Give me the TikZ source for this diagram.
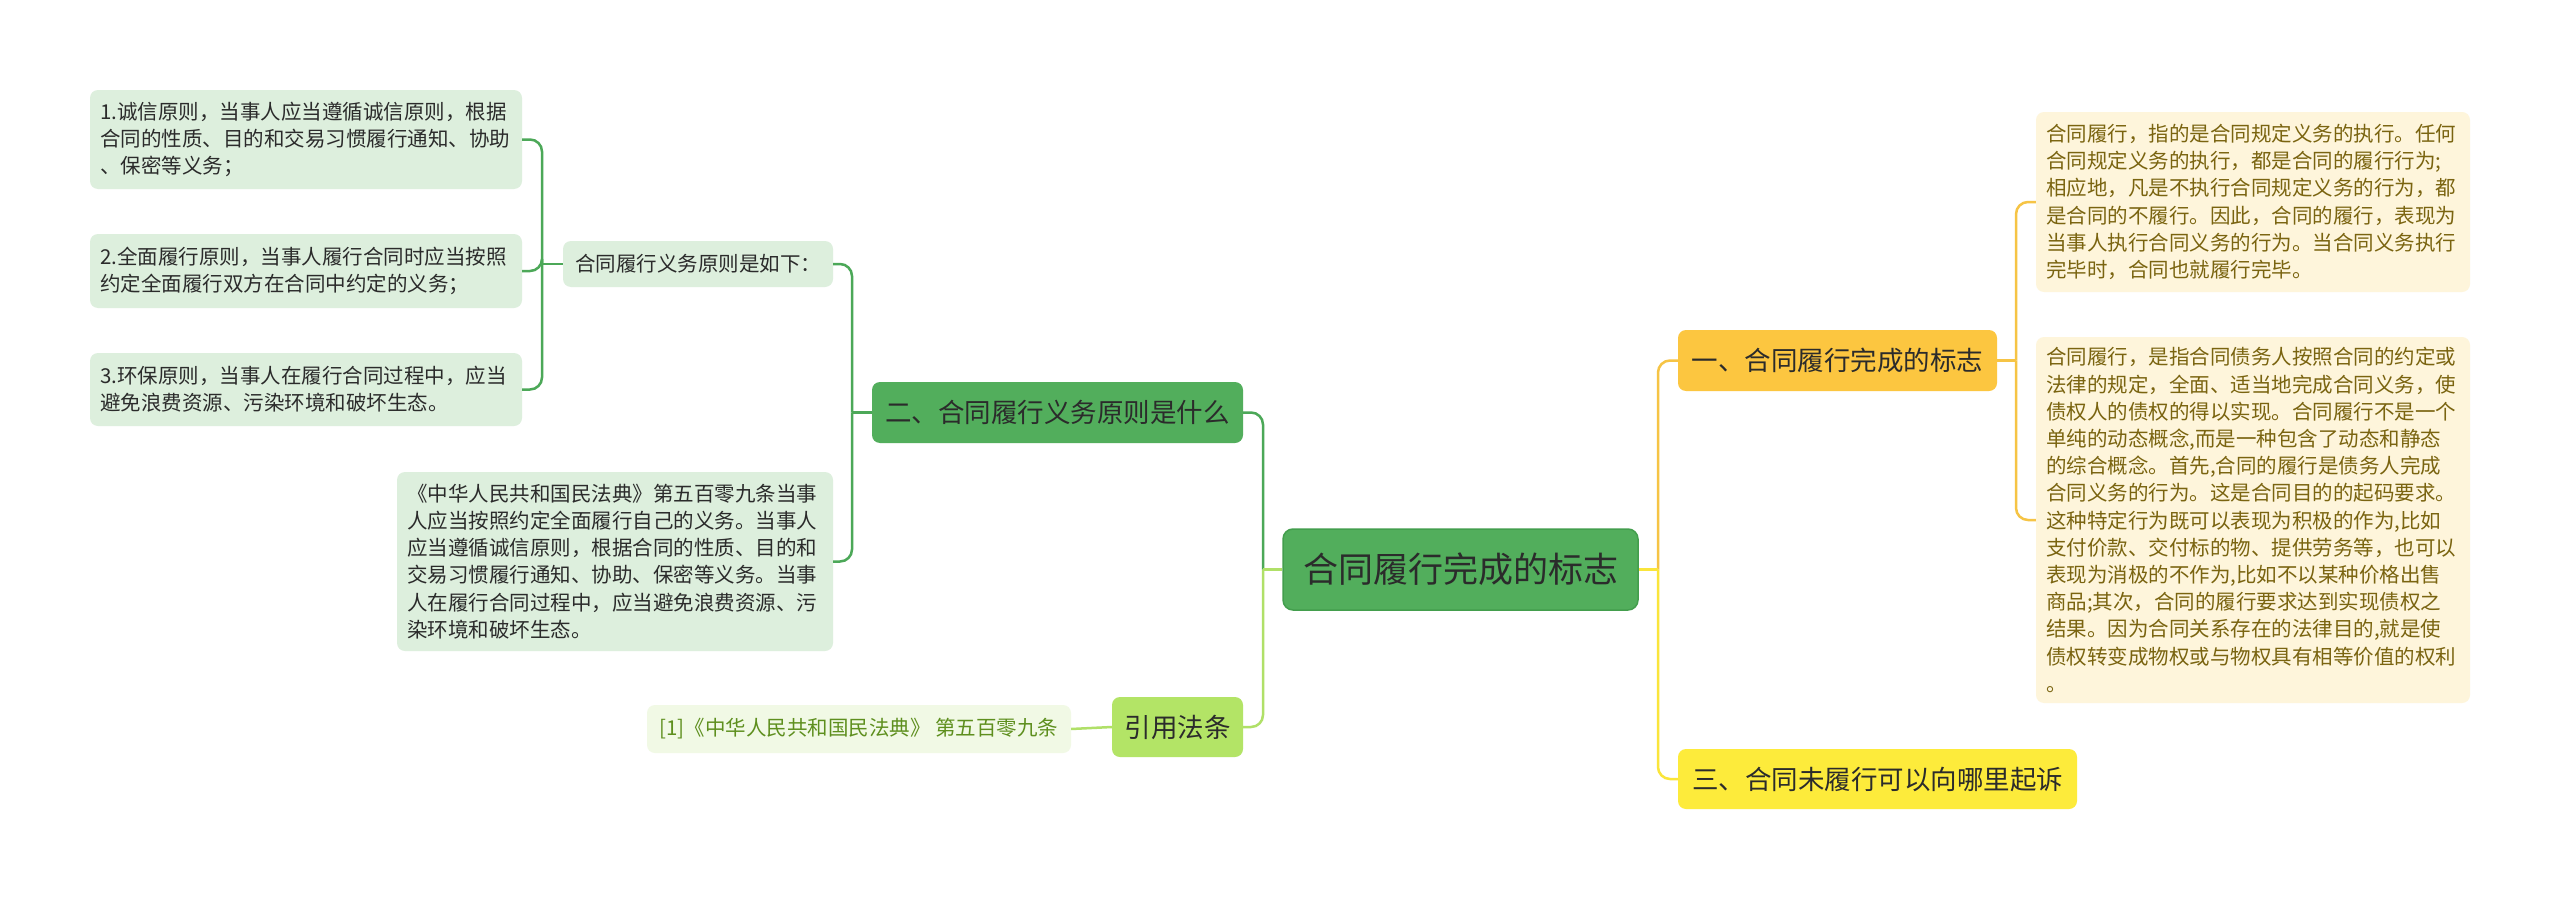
\documentclass[tikz,border=0pt]{standalone}
\usepackage{fontspec}
\newfontfamily\cjk{Noto Sans CJK SC}
\definecolor{rootfill}{HTML}{52AE5C}
\definecolor{rootborder}{HTML}{439E4D}
\definecolor{yinfill}{HTML}{B3E466}
\definecolor{reffill}{HTML}{F1F9E5}
\definecolor{reftext}{HTML}{5E8F1E}
\definecolor{lboxfill}{HTML}{DDEFDD}
\definecolor{onefill}{HTML}{FCC640}
\definecolor{threefill}{HTML}{FDEB3B}
\definecolor{rboxfill}{HTML}{FEF5DB}
\definecolor{rboxtext}{HTML}{7A6410}
\definecolor{darktext}{HTML}{2B2B2B}
\definecolor{cgreenc}{HTML}{4CA858}
\definecolor{clgreenc}{HTML}{B0E068}
\definecolor{cgoldc}{HTML}{F6C445}
\definecolor{cyellowc}{HTML}{FAE53B}
\tikzset{
  basebox/.style={rounded corners=8pt, inner sep=0pt, align=center, text=darktext},
  smallfont/.style={font=\cjk\fontsize{20.5}{27.2}\selectfont},
  bigfont/.style={font=\cjk\fontsize{26.5}{32}\selectfont},
  leftbox/.style={basebox, smallfont, fill=lboxfill, align=left, inner xsep=10pt},
  rightbox/.style={basebox, smallfont, fill=rboxfill, text=rboxtext, align=left, inner xsep=10pt},
  rootbox/.style={basebox, fill=rootfill, draw=rootborder, line width=1.5pt, font=\cjk\fontsize{35}{40}\selectfont, rounded corners=10pt},
  lvlbox/.style={basebox, bigfont},
  cgreen/.style={draw=cgreenc, line width=2.5pt},
  clgreen/.style={draw=clgreenc, line width=2.5pt},
  cgold/.style={draw=cgoldc, line width=2.5pt},
  cyellow/.style={draw=cyellowc, line width=2.5pt},
  rc/.style={rounded corners=12pt}
}
\begin{document}
\begin{tikzpicture}[x=1pt,y=-1pt]
\useasboundingbox[fill=white] (0,0) rectangle (2560,899);

% root
\node[rootbox, minimum width=355pt, minimum height=81pt] (root) at (1460.5,569.5) {合同履行完成的标志};

% left branch
\node[lvlbox, fill=rootfill, minimum width=371pt, minimum height=61pt] (two) at (1057.5,412.5) {二、合同履行义务原则是什么};
\node[lvlbox, fill=yinfill, minimum width=131pt, minimum height=60pt] (yin) at (1177.5,727) {引用法条};
\node[basebox, smallfont, fill=reffill, text=reftext, minimum width=424pt, minimum height=48pt] (ref) at (859,729) {[1]《中华人民共和国民法典》 第五百零九条};

\node[basebox, smallfont, fill=lboxfill, minimum width=270pt, minimum height=46pt] (P) at (698,264) {合同履行义务原则是如下：};
\node[leftbox, text width=416pt, minimum height=179pt] (L) at (615,561.5) {《中华人民共和国民法典》第五百零九条当事\\人应当按照约定全面履行自己的义务。当事人\\应当遵循诚信原则，根据合同的性质、目的和\\交易习惯履行通知、协助、保密等义务。当事\\人在履行合同过程中，应当避免浪费资源、污\\染环境和破坏生态。};

\node[leftbox, text width=412pt, minimum height=99pt] (b1) at (306,139.5) {1.诚信原则，当事人应当遵循诚信原则，根据\\合同的性质、目的和交易习惯履行通知、协助\\、保密等义务；};
\node[leftbox, text width=412pt, minimum height=74pt] (b2) at (306,271) {2.全面履行原则，当事人履行合同时应当按照\\约定全面履行双方在合同中约定的义务；};
\node[leftbox, text width=412pt, minimum height=73pt] (b3) at (306,389.5) {3.环保原则，当事人在履行合同过程中，应当\\避免浪费资源、污染环境和破坏生态。};

% right branch
\node[lvlbox, fill=onefill, minimum width=319pt, minimum height=61pt] (one) at (1837.5,360.5) {一、合同履行完成的标志};
\node[lvlbox, fill=threefill, minimum width=399pt, minimum height=60pt] (three) at (1877.5,779) {三、合同未履行可以向哪里起诉};

\node[rightbox, text width=414pt, minimum height=180pt] (A) at (2253,202) {合同履行，指的是合同规定义务的执行。任何\\合同规定义务的执行，都是合同的履行行为;\\相应地，凡是不执行合同规定义务的行为，都\\是合同的不履行。因此，合同的履行，表现为\\当事人执行合同义务的行为。当合同义务执行\\完毕时，合同也就履行完毕。};
\node[rightbox, text width=414pt, minimum height=366pt] (B) at (2253,520) {合同履行，是指合同债务人按照合同的约定或\\法律的规定，全面、适当地完成合同义务，使\\债权人的债权的得以实现。合同履行不是一个\\单纯的动态概念,而是一种包含了动态和静态\\的综合概念。首先,合同的履行是债务人完成\\合同义务的行为。这是合同目的的起码要求。\\这种特定行为既可以表现为积极的作为,比如\\支付价款、交付标的物、提供劳务等，也可以\\表现为消极的不作为,比如不以某种价格出售\\商品;其次，合同的履行要求达到实现债权之\\结果。因为合同关系存在的法律目的,就是使\\债权转变成物权或与物权具有相等价值的权利\\。};

% junctions
\coordinate (jL) at (1263,569.5);
\coordinate (jR) at (1658,569.5);
\coordinate (jT) at (852,412.5);
\coordinate (jP) at (542,264);
\coordinate (jO) at (2016,360.5);

% connectors
\draw[cgreen, rc] (two.east) -| (jL);
\draw[clgreen, rc] (yin.east) -| (jL);
\draw[clgreen] (jL) -- (root.west);

\draw[cgold, rc] (one.west) -| (jR);
\draw[cyellow, rc] (three.west) -| (jR);
\draw[cyellow] (root.east) -- (jR);

\draw[cgreen, rc] (P.east) -| (jT);
\draw[cgreen, rc] (L.east) -| (jT);
\draw[cgreen] (jT) -- (two.west);

\draw[cgreen, rc] (b1.east) -| (jP);
\draw[cgreen, rc] (b2.east) -| (jP);
\draw[cgreen, rc] (b3.east) -| (jP);
\draw[cgreen] (jP) -- (P.west);

\draw[cgold, rc] (A.west) -| (jO);
\draw[cgold, rc] (B.west) -| (jO);
\draw[cgold] (jO) -- (one.east);

\draw[clgreen] (ref.east) -- (yin.west);
\end{tikzpicture}
\end{document}
